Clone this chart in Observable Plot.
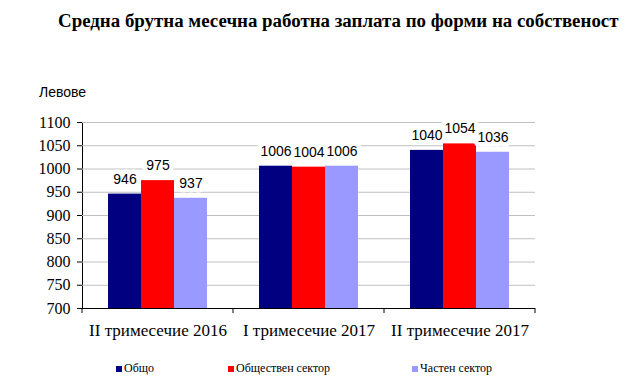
<!DOCTYPE html>
<html>
<head>
<meta charset="utf-8">
<script src="https://cdn.jsdelivr.net/npm/d3@7"></script>
<script src="https://cdn.jsdelivr.net/npm/@observablehq/plot@0.6"></script>
<style>
  body { margin: 0; background: #fff; }
  #wrap { position: relative; width: 630px; height: 383px; overflow: hidden; background: #fff; }
  .serif { font-family: "Liberation Serif", "Times New Roman", Tinos, "DejaVu Serif", serif; }
  #title { position: absolute; top: 12px; left: 58px; font-weight: bold; font-size: 18.9px; line-height: 1; white-space: nowrap; color: #000; }
  #ylab { position: absolute; top: 85px; left: 39px; font-family: "Liberation Sans", Arial, sans-serif; font-size: 14px; line-height: 1; color: #000; }
  #chart { position: absolute; top: 40px; left: 0; }
  .leg { position: absolute; top: 362px; font-size: 12px; line-height: 1; white-space: nowrap; color: #000; }
  .leg i { display: inline-block; width: 6px; height: 6px; margin-right: 2px; vertical-align: 0px; }
</style>
</head>
<body>
<div id="wrap">
  <div id="title" class="serif">Средна брутна месечна работна заплата по форми на собственост</div>
  <div id="ylab">Левове</div>
  <div id="chart"></div>
</div>
<script>
const groups = ["II тримесечие 2016", "I тримесечие 2017", "II тримесечие 2017"];
const series = ["Общо", "Обществен сектор", "Частен сектор"];
const obshto = [946, 1006, 1040];
const obshtestven = [975, 1004, 1054];
const chasten = [937, 1006, 1036];
const yTicks = [700, 750, 800, 850, 900, 950, 1000, 1050, 1100];
const colors = ["#000080", "#ff0000", "#9999ff"];

const seriesValues = [obshto, obshtestven, chasten];
const data = groups.flatMap((g, i) => series.map((s, j) => ({group: g, series: s, value: seriesValues[j][i]})));
const yMin = yTicks[0], yMax = yTicks[yTicks.length - 1];
const SERIF = '"Liberation Serif", "Times New Roman", Tinos, serif';
const SANS = '"Liberation Sans", Arial, sans-serif';

const labelOpts = {x: "series", y: "value", text: d => String(d.value), dy: -15, fontFamily: SANS, fontSize: 14, className: "vlabel"};

const chart = Plot.plot({
  width: 630,
  height: 305,
  marginTop: 82,
  marginBottom: 37,
  marginLeft: 82,
  marginRight: 95,
  style: {fontFamily: SERIF, fontSize: "15px", color: "#000", background: "transparent", overflow: "visible"},
  facet: {data, x: "group", marginTop: 82, marginBottom: 37, marginLeft: 82, marginRight: 95},
  fx: {domain: groups, padding: 0, axis: "bottom", label: null, tickSize: 0, tickPadding: 15},
  x: {domain: series, paddingInner: 0, paddingOuter: 0.765, axis: null},
  y: {domain: [yMin, yMax], ticks: yTicks, tickSize: 5, tickPadding: 7, line: true, label: null, tickFormat: d => String(d)},
  color: {domain: series, range: colors},
  marks: [
    Plot.ruleY(yTicks.slice(1), {stroke: "#c0c0c0", strokeWidth: 1}),
    Plot.barY(data, {x: "series", y1: () => yMin, y2: "value", fill: "series"}),
    Plot.text(data, {...labelOpts, fill: "white", stroke: "white", strokeWidth: 9}),
    Plot.text(data, {...labelOpts, fill: "#000"}),
    Plot.ruleY([yMin], {stroke: "#000", strokeWidth: 1})
  ]
});
document.getElementById("chart").appendChild(chart);

// fonts: axis labels serif (Times-like), value labels sans
const svg = d3.select(chart);
svg.selectAll("[aria-label^='y-axis'] text").style("font-family", SERIF).style("font-size", "16px");
svg.selectAll("[aria-label^='fx-axis'] text").style("font-family", SERIF).style("font-size", "17px");
svg.selectAll(".vlabel text").style("font-family", SANS).style("font-size", "14px");

// boundary tick marks under the category axis, from the library's scales
try {
  const fx = chart.scale("fx");
  const ys = chart.scale("y");
  const y0 = ys.apply(yMin);
  const pos = groups.map(g => fx.apply(g));
  pos.push(fx.apply(groups[groups.length - 1]) + fx.bandwidth);
  svg.append("g").attr("stroke", "#000")
    .selectAll("line").data(pos).join("line")
    .attr("x1", d => d).attr("x2", d => d).attr("y1", y0).attr("y2", y0 + 5);
} catch (e) {}

const wrap = document.getElementById("wrap");
const legendX = [116, 228, 412];
series.forEach((s, i) => {
  const el = document.createElement("div");
  el.className = "leg serif";
  el.style.left = legendX[i] + "px";
  el.style.fontFamily = SERIF;
  el.innerHTML = `<i style="background:${colors[i]}"></i>${s}`;
  wrap.appendChild(el);
});
</script>
</body>
</html>
